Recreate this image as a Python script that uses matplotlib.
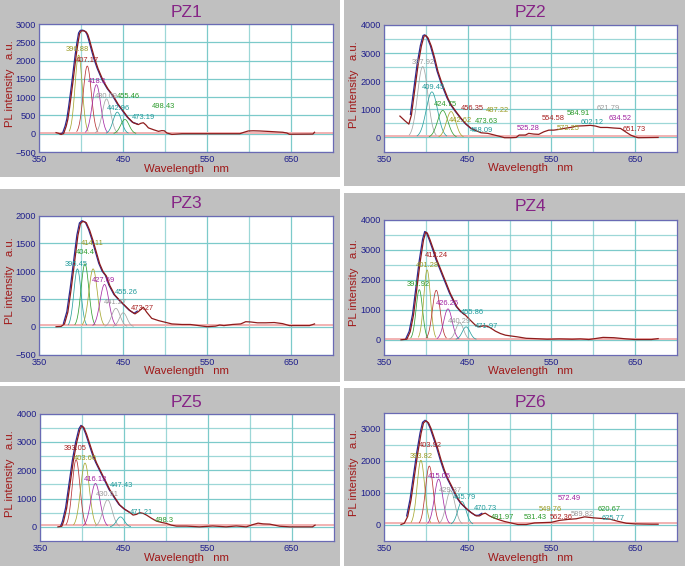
import numpy as np
import matplotlib
matplotlib.use("Agg")
import matplotlib.pyplot as plt
from matplotlib.patches import Rectangle
from matplotlib.transforms import offset_copy

plt.rcParams["font.family"] = ["Liberation Sans", "DejaVu Sans"]

W, H = 685, 566

# ---------------- data ----------------
# PZ1
pz1_wl = [370, 373, 376, 379, 382, 384, 386, 388, 390, 392, 394, 396, 398, 400, 403, 406, 408,
          410, 412, 416, 420, 426, 432, 438, 444, 450, 456, 462, 468, 471, 474, 477, 480, 486,
          492, 496, 499, 502, 508, 520, 560, 589, 594, 599, 605, 613, 625, 640, 645, 648, 676, 678]
pz1_int = [30, 10, -20, 5, 200, 390, 700, 1040, 1400, 1780, 2150, 2470, 2740, 2810, 2815, 2780,
           2700, 2550, 2380, 2050, 1780, 1455, 1220, 1040, 805, 620, 435, 300, 250, 285, 300, 240,
           160, 110, 65, 85, 80, 20, -20, 0, 0, 0, 40, 75, 80, 75, 60, 40, 20, -15, -10, 40]
pz1_peak_c = [396.88, 407.17, 418.1, 430.09, 442.96, 452.0]
pz1_peak_h = [2150, 1850, 1340, 950, 590, 390]
pz1_peak_w = [4.3, 4.8, 5.0, 5.0, 5.0, 5.0]
pz1_labels = ["396.88", "407.17", "418.1", "430.09", "455.46", "442.96", "473.19", "498.43"]
pz1_label_x = [394.8, 407.2, 419.2, 430.0, 456.0, 444.0, 474.0, 498.0]
pz1_label_y = [2305, 1990, 1425, 1020, 1020, 685, 455, 740]

# PZ2
pz2_wl = [368.7, 374.6, 379.4, 382.5, 386.5, 390.5, 394.4, 397.6, 399.6, 402.4, 406.3, 410.3,
          414.3, 418.3, 422.2, 426.2, 430.2, 436, 442, 448, 454, 460, 466, 474, 482, 490, 494,
          502, 508, 511.5, 519, 523, 529, 535, 541, 547, 553, 559, 565, 573, 581, 589, 597, 603,
          609, 617, 625, 633, 639, 645, 650, 654, 678]
pz2_int = [760, 595, 475, 800, 1700, 2590, 3250, 3605, 3630, 3540, 3250, 2830, 2345, 1990, 1690,
           1390, 1155, 915, 680, 475, 320, 240, 165, 145, 85, 25, -10, -10, 0, 85, 85, 145, 120,
           110, 200, 260, 260, 285, 320, 355, 405, 415, 430, 405, 355, 355, 335, 320, 200, 85,
           25, -10, 0]
pz2_peak_c = [396.0, 407.0, 420.0, 430.0]
pz2_peak_h = [2520, 1620, 960, 920]
pz2_peak_w = [6.2, 6.8, 6.2, 5.6]
pz2_labels = ["397.92", "409.45", "424.75", "456.35", "487.22", "442.62", "473.63", "468.09",
              "525.28", "554.58", "572.25", "584.91", "602.12", "621.79", "634.52", "651.73"]
pz2_label_x = [397.0, 408.5, 423.6, 455.6, 485.7, 441.0, 472.0, 466.9,
               522.4, 552.4, 570.0, 582.3, 599.4, 618.7, 632.3, 649.4]
pz2_label_y = [2650, 1790, 1170, 1015, 955, 620, 573, 263,
               310, 680, 322, 835, 525, 1027, 680, 287]

# PZ3
pz3_wl = [370, 376, 380, 384, 388, 392, 396, 399, 402, 406, 410, 414, 418, 422, 426, 430, 434,
          440, 446, 452, 458, 464, 468, 474, 478, 484, 492, 500, 508, 520, 530, 540, 550, 560,
          565, 570, 580, 590, 596, 602, 610, 620, 630, 640, 648, 660, 672, 678]
pz3_int = [0, 5, 50, 260, 680, 1160, 1640, 1855, 1895, 1870, 1735, 1550, 1340, 1130, 990, 910,
           740, 570, 470, 380, 290, 230, 270, 350, 260, 150, 110, 80, 50, 40, 40, 20, 0, 10, 30,
           20, 40, 50, 90, 85, 70, 70, 75, 55, 20, 20, 20, 50]
pz3_peak_c = [395.45, 404.4, 414.11, 427.69, 441.27, 450.0]
pz3_peak_h = [1040, 1130, 1040, 760, 330, 250]
pz3_peak_w = [4.2, 4.6, 5.0, 5.3, 5.0, 4.6]
pz3_labels = ["414.11", "404.4", "395.45", "427.69", "455.26", "441.27", "473.27"]
pz3_label_x = [412.9, 404.6, 394.4, 426.8, 454.2, 440.7, 472.8]
pz3_label_y = [1500, 1333, 1113, 833, 607, 440, 321]

# PZ4
pz4_wl = [370, 377, 381, 385, 389, 393, 397, 399.6, 401.6, 404.8, 409, 413, 417, 421, 425, 429,
          433, 437, 442, 447, 453, 459, 463, 469, 473, 477, 483, 489, 495, 501, 509, 520, 530,
          545, 560, 575, 585, 595, 600, 612, 625, 640, 650, 670, 678]
pz4_int = [-10, 10, 255, 815, 1705, 2600, 3320, 3580, 3545, 3320, 2990, 2650, 2375, 2095, 1820,
           1540, 1315, 1090, 925, 815, 645, 480, 425, 455, 445, 390, 280, 200, 145, 120, 90, 40,
           30, 10, 20, 10, 20, 0, 20, 70, 60, 20, 0, 0, 30]
pz4_peak_c = [391.92, 401.28, 412.24, 426.26, 440.29, 448.0]
pz4_peak_h = [1660, 2320, 1640, 1020, 560, 420]
pz4_peak_w = [3.9, 4.0, 4.6, 5.0, 4.6, 4.6]
pz4_labels = ["412.24", "401.28", "391.92", "426.26", "455.86", "440.29", "471.97"]
pz4_label_x = [412.6, 401.6, 391.0, 425.8, 456.0, 440.4, 472.5]
pz4_label_y = [2800, 2465, 1817, 1193, 903, 590, 446]

# PZ5
pz5_wl = [371.4, 376, 378, 381.7, 385.7, 389.7, 393.7, 397.6, 400, 402.4, 405.6, 409.5, 413.5,
          417.5, 421.4, 425.4, 429.4, 433.3, 439.3, 445.2, 451.2, 457, 461, 465, 469, 473, 477,
          483, 489, 495, 500.8, 506.7, 512.7, 524.6, 540, 556, 572, 584, 596, 604, 610, 616,
          624, 636, 648, 675, 678]
pz5_int = [0, 20, 180, 650, 1480, 2315, 2970, 3440, 3560, 3500, 3265, 2910, 2550, 2255, 2020,
           1780, 1545, 1305, 1030, 770, 615, 510, 415, 440, 500, 475, 415, 300, 200, 155, 120,
           60, 25, 25, 0, 30, 0, 30, 0, 80, 130, 105, 95, 20, 0, 0, 60]
pz5_peak_c = [393.05, 403.66, 416.13, 430.51, 446.0]
pz5_peak_h = [2370, 2250, 1530, 950, 350]
pz5_peak_w = [4.6, 5.2, 5.5, 5.5, 4.6]
pz5_labels = ["393.05", "403.66", "416.13", "447.43", "430.51", "471.21", "498.3"]
pz5_label_x = [391.7, 404.6, 416.5, 447.2, 430.0, 471.2, 497.8]
pz5_label_y = [2766, 2410, 1674, 1472, 1128, 522, 237]

# PZ6
pz6_wl = [370, 374, 378, 382, 386, 390, 394, 397, 400, 403, 406, 410, 414, 418, 422, 426, 430,
          434, 438, 442, 448, 454, 460, 464, 468, 471, 476, 482, 488, 494, 500, 510, 520, 530,
          540, 550, 560, 570, 580, 590, 600, 610, 620, 630, 640, 650, 670, 678]
pz6_int = [0, 40, 250, 770, 1500, 2225, 2850, 3180, 3245, 3180, 3005, 2695, 2380, 2020, 1705,
           1445, 1240, 1030, 820, 665, 510, 375, 270, 270, 333, 355, 270, 200, 145, 95, 60, 0, 0,
           50, 60, 70, 130, 160, 180, 240, 210, 190, 170, 100, 40, 20, 10, 10]
pz6_peak_c = [393.82, 403.92, 415.05, 429.37, 443.0]
pz6_peak_h = [2010, 1830, 1420, 1060, 720]
pz6_peak_w = [4.5, 4.6, 5.0, 5.3, 5.0]
pz6_labels = ["403.92", "393.82", "415.05", "429.37", "445.79", "470.73", "491.97", "531.43",
              "549.76", "562.36", "572.49", "589.82", "620.67", "625.77"]
pz6_label_x = [404.8, 394.2, 415.3, 429.2, 445.4, 470.8, 491.9, 531.2,
               548.8, 562.1, 572.0, 587.0, 619.6, 624.6]
pz6_label_y = [2465, 2120, 1500, 1080, 840, 490, 218, 218,
               478, 218, 822, 322, 458, 177]

# ---------------- styles ----------------
OLIVE, RED, MAG, GRAY, TEAL, GREEN = "#a8a832", "#b83434", "#a52ca5", "#a4a4a4", "#2aa0a0", "#35a035"
LBL_OLIVE, LBL_RED, LBL_MAG, LBL_GRAY, LBL_TEAL, LBL_GREEN = (
    "#9a9a22", "#a82020", "#a020a0", "#9a9a9a", "#1f9a9a", "#2a9a2a")

SPEC = "#8e1c1c"
FIT = "#2c2c94"
PANEL_BG = "#c0c0c0"
GRID = "#7ccaca"
SPINE = "#6a6ab4"
TICKC = "#1f1f8c"
AXLAB = "#a01818"
TITLEC = "#862486"

panels = [
    dict(name="PZ1", wl=pz1_wl, y=pz1_int, pc=pz1_peak_c, ph=pz1_peak_h, pw=pz1_peak_w,
         pcol=[OLIVE, RED, MAG, GRAY, TEAL, GREEN],
         lab=pz1_labels, lx=pz1_label_x, ly=pz1_label_y,
         lcol=[LBL_OLIVE, LBL_RED, LBL_MAG, LBL_GRAY, LBL_GREEN, LBL_TEAL, LBL_TEAL, LBL_GREEN],
         bg=(0, 0, 340, 177), ax=(39.3, 24, 333, 152), ylim=(-500, 3000),
         major=np.arange(-500, 3001, 500), minor=[], title_y=12.7, xl_y=168.7,
         fit=(376, 470), base=30),
    dict(name="PZ2", wl=pz2_wl, y=pz2_int, pc=pz2_peak_c, ph=pz2_peak_h, pw=pz2_peak_w,
         pcol=[GRAY, TEAL, GREEN, OLIVE],
         lab=pz2_labels, lx=pz2_label_x, ly=pz2_label_y,
         lcol=[LBL_GRAY, LBL_TEAL, LBL_GREEN, LBL_RED, LBL_OLIVE, LBL_OLIVE, LBL_GREEN, LBL_TEAL,
               LBL_MAG, LBL_RED, LBL_OLIVE, LBL_GREEN, LBL_TEAL, LBL_GRAY, LBL_MAG, LBL_RED],
         bg=(344, 0, 685, 186), ax=(384.3, 25, 676.5, 151.5), ylim=(-500, 4000),
         major=np.arange(0, 4001, 1000), minor=np.arange(500, 4000, 1000), title_y=12.7,
         xl_y=168.3, fit=(380, 460), base=40),
    dict(name="PZ3", wl=pz3_wl, y=pz3_int, pc=pz3_peak_c, ph=pz3_peak_h, pw=pz3_peak_w,
         pcol=[TEAL, GREEN, OLIVE, MAG, GRAY, GRAY],
         lab=pz3_labels, lx=pz3_label_x, ly=pz3_label_y,
         lcol=[LBL_OLIVE, LBL_GREEN, LBL_TEAL, LBL_MAG, LBL_TEAL, LBL_GRAY, LBL_RED],
         bg=(0, 189, 340, 382), ax=(39.3, 215.5, 333, 354.5), ylim=(-500, 2000),
         major=np.arange(-500, 2001, 500), minor=[], title_y=203.3, xl_y=371.5,
         fit=(380, 470), base=30),
    dict(name="PZ4", wl=pz4_wl, y=pz4_int, pc=pz4_peak_c, ph=pz4_peak_h, pw=pz4_peak_w,
         pcol=[GREEN, OLIVE, RED, MAG, GRAY, TEAL],
         lab=pz4_labels, lx=pz4_label_x, ly=pz4_label_y,
         lcol=[LBL_RED, LBL_OLIVE, LBL_GREEN, LBL_MAG, LBL_TEAL, LBL_GRAY, LBL_TEAL],
         bg=(344, 193, 685, 381), ax=(384.3, 219.5, 676.5, 354.5), ylim=(-500, 4000),
         major=np.arange(0, 4001, 1000), minor=np.arange(500, 4000, 1000), title_y=206.7,
         xl_y=371.5, fit=(376, 450), base=20),
    dict(name="PZ5", wl=pz5_wl, y=pz5_int, pc=pz5_peak_c, ph=pz5_peak_h, pw=pz5_peak_w,
         pcol=[RED, OLIVE, MAG, GRAY, TEAL],
         lab=pz5_labels, lx=pz5_label_x, ly=pz5_label_y,
         lcol=[LBL_RED, LBL_OLIVE, LBL_MAG, LBL_TEAL, LBL_GRAY, LBL_TEAL, LBL_GREEN],
         bg=(0, 386, 340, 566), ax=(40, 413.5, 333.5, 541), ylim=(-500, 4000),
         major=np.arange(0, 4001, 1000), minor=np.arange(500, 4000, 1000), title_y=402.3,
         xl_y=557.7, fit=(376, 460), base=50),
    dict(name="PZ6", wl=pz6_wl, y=pz6_int, pc=pz6_peak_c, ph=pz6_peak_h, pw=pz6_peak_w,
         pcol=[OLIVE, RED, MAG, GRAY, TEAL],
         lab=pz6_labels, lx=pz6_label_x, ly=pz6_label_y,
         lcol=[LBL_RED, LBL_OLIVE, LBL_MAG, LBL_GRAY, LBL_TEAL, LBL_TEAL, LBL_GREEN, LBL_GREEN,
               LBL_OLIVE, LBL_RED, LBL_MAG, LBL_GRAY, LBL_GREEN, LBL_TEAL],
         bg=(344, 388, 685, 566), ax=(384.3, 412.7, 676.5, 540.5), ylim=(-500, 3500),
         major=np.arange(0, 3001, 1000), minor=np.arange(500, 3500, 1000), title_y=402.3,
         xl_y=557.7, fit=(375, 470), base=40),
]

fig = plt.figure(figsize=(W / 100, H / 100), dpi=100)
fig.patch.set_facecolor("white")


def fx(px):
    return px / W


def fy(py):
    return 1 - py / H


for p in panels:
    x0, y0, x1, y1 = p["bg"]
    fig.add_artist(Rectangle((fx(x0), fy(y1)), fx(x1 - x0), (y1 - y0) / H,
                             transform=fig.transFigure, facecolor=PANEL_BG,
                             edgecolor="none", zorder=-5))

    l, t, r, b = p["ax"]
    ax = fig.add_axes([fx(l), fy(b), fx(r - l), (b - t) / H])
    ax.set_facecolor("white")
    ax.set_xlim(350, 700)
    ax.set_ylim(*p["ylim"])
    ax.set_xticks([350, 450, 550, 650])
    ax.set_xticks([400, 500, 600], minor=True)
    ax.set_yticks(p["major"])
    ax.set_yticks(p["minor"], minor=True)
    ax.tick_params(which="both", length=0, labelsize=6.6, labelcolor=TICKC)
    ax.tick_params(axis="y", pad=2.2)
    ax.tick_params(axis="x", pad=2.5)
    ax.grid(True, which="major", color=GRID, lw=0.9)
    ax.grid(True, which="minor", color=GRID, lw=0.9, alpha=0.75)
    ax.set_axisbelow(True)
    for s in ax.spines.values():
        s.set_color(SPINE)
        s.set_linewidth(0.9)

    ax.axhline(p["base"], color="#f2b2b2", lw=1.4, zorder=1)

    # fitted gaussian components
    for c, h, w, col in zip(p["pc"], p["ph"], p["pw"], p["pcol"]):
        xs = np.linspace(c - 2.6 * w, c + 2.6 * w, 80)
        ax.plot(xs, h * np.exp(-0.5 * ((xs - c) / w) ** 2), color=col, lw=0.55, zorder=2)

    wl = np.array(p["wl"])
    yy = np.array(p["y"])
    m = (wl >= p["fit"][0]) & (wl <= p["fit"][1])
    shift = offset_copy(ax.transData, fig=fig, x=-1.0, y=0.6, units="dots")
    ax.plot(wl[m], yy[m], color=FIT, lw=0.9, transform=shift, zorder=3)
    ax.plot(wl, yy, color=SPEC, lw=0.9, zorder=4)

    for txt, x, y, col in zip(p["lab"], p["lx"], p["ly"], p["lcol"]):
        ax.text(x, y, txt, color=col, fontsize=5.4, ha="center", va="center", zorder=5)

    cx = (l + r) / 2
    fig.text(fx(cx), fy(p["title_y"]), p["name"], color=TITLEC, fontsize=12.5,
             ha="center", va="center")
    fig.text(fx(cx), fy(p["xl_y"]), "Wavelength   nm", color=AXLAB, fontsize=8.2,
             ha="center", va="center")
    fig.text(fx(p["bg"][0] + 10), fy((t + b) / 2 - 4), "PL intensity   a.u.", color=AXLAB,
             fontsize=8.2, ha="center", va="center", rotation=90)

fig.savefig("out.png", dpi=100, facecolor="white")
